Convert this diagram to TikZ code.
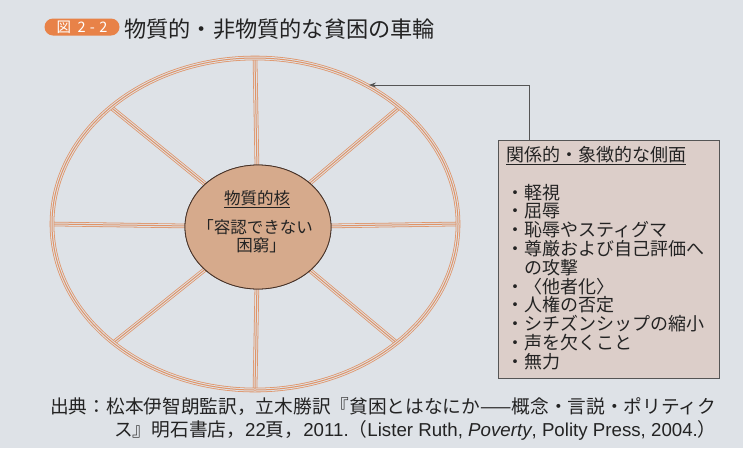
\documentclass[tikz,border=0pt]{standalone}
\usepackage{fontspec}
\setmainfont{Noto Sans CJK JP}
\newfontfamily\lat{Liberation Sans}
\usetikzlibrary{shapes.geometric,arrows.meta,calc}
\definecolor{bgc}{RGB}{222,226,231}
\definecolor{wheel}{RGB}{224,148,104}
\definecolor{corefill}{RGB}{214,170,140}
\definecolor{coreline}{RGB}{70,50,40}
\definecolor{boxfill}{RGB}{220,206,201}
\definecolor{boxline}{RGB}{85,85,85}
\definecolor{badgec}{RGB}{232,130,72}
\definecolor{txt}{RGB}{35,35,35}
\pgfdeclarelayer{bglayer}
\pgfdeclarelayer{spokelayer}
\pgfsetlayers{bglayer,spokelayer,main}
\tikzset{
  triple/.style={draw=wheel, line width=4.6pt,
    postaction={draw=bgc, line width=3pt},
    postaction={draw=wheel, line width=1pt}},
  rimshape/.style={ellipse, minimum width=406pt, minimum height=332pt, inner sep=0pt, outer sep=0pt},
  core/.style={ellipse, minimum width=146pt, minimum height=124pt, inner sep=0pt, outer sep=0pt,
    fill=corefill, draw=coreline, line width=0.8pt},
  coretxt/.style={text=txt, font=\fontsize{16.5}{18}\selectfont, inner sep=0pt},
  listbox/.style={rectangle, minimum width=221pt, minimum height=238pt, fill=boxfill, draw=boxline, line width=0.8pt},
  listtxt/.style={text=txt, font=\fontsize{18}{18.8}\selectfont, align=left, inner sep=0pt},
  badge/.style={rectangle, rounded corners=8.5pt, fill=badgec, text=white, minimum width=75pt, minimum height=17pt, inner sep=0pt, font=\fontsize{14.5}{14.5}\selectfont},
  titletxt/.style={text=txt, font=\fontsize{22.2}{23}\selectfont, inner sep=0pt},
  captxt/.style={text=txt, font=\fontsize{18.7}{20}\selectfont, inner sep=0pt},
  pointer/.style={draw=boxline, line width=0.7pt, -{Stealth[length=7pt,width=5pt]}}
}
\begin{document}
\begin{tikzpicture}[x=1pt,y=-1pt]
\begin{pgfonlayer}{bglayer}
\fill[bgc] (0,0) rectangle (743,448);
\end{pgfonlayer}
\useasboundingbox (0,0) rectangle (743,448);
% title
\node[badge] (badge) at (82,27) {図\hspace{0.45em}2\hspace{0.3em}-\hspace{0.3em}2};
\node[titletxt, anchor=west] (title) at (124,29) {物質的・非物質的な貧困の車輪};
% wheel
\node[rimshape] (rim) at (255,224) {};
\node[core] (core) at (258,227) {};
\begin{pgfonlayer}{spokelayer}
\foreach \a in {0,39,90,141,180,220,270,320}{
  \draw[triple] (core.center) -- (rim.\a);
}
\end{pgfonlayer}
\node[rimshape, triple] (rimdraw) at (rim.center) {};
\node[core] (coredraw) at (core.center) {};
\node[coretxt] (coretitle) at (257,199) {\underline{物質的核}};
\node[coretxt] (coreline1) at (255,227) {「容認できない};
\node[coretxt] (coreline2) at (261,245) {困窮」};
% list box
\node[listbox] (box) at (608.5,259) {};
\node[listtxt, anchor=north west] (boxtext) at (506,146) {\underline{関係的・象徴的な側面}\\[18.8pt]
・軽視\\
・屈辱\\
・恥辱やスティグマ\\
・尊厳および自己評価へ\\
\hspace*{1em}の攻撃\\
・〈他者化〉\\
・人権の否定\\
・シチズンシップの縮小\\
・声を欠くこと\\
・無力};
% pointer
\coordinate (bend) at (529,85);
\coordinate (tip) at (369,85);
\draw[pointer] (box.north -| bend) -- (bend) -- (tip);
% caption
\node[captxt, anchor=west] (cap1) at (50,407) {出典：松本伊智朗監訳，立木勝訳『貧困とはなにか——概念・言説・ポリティク};
\node[captxt, anchor=west] (cap2) at (114,430) {ス』明石書店，{\lat 22}頁，{\lat 2011.}（{\lat Lister Ruth, \textit{Poverty}, Polity Press, 2004.}）};
\end{tikzpicture}
\end{document}
